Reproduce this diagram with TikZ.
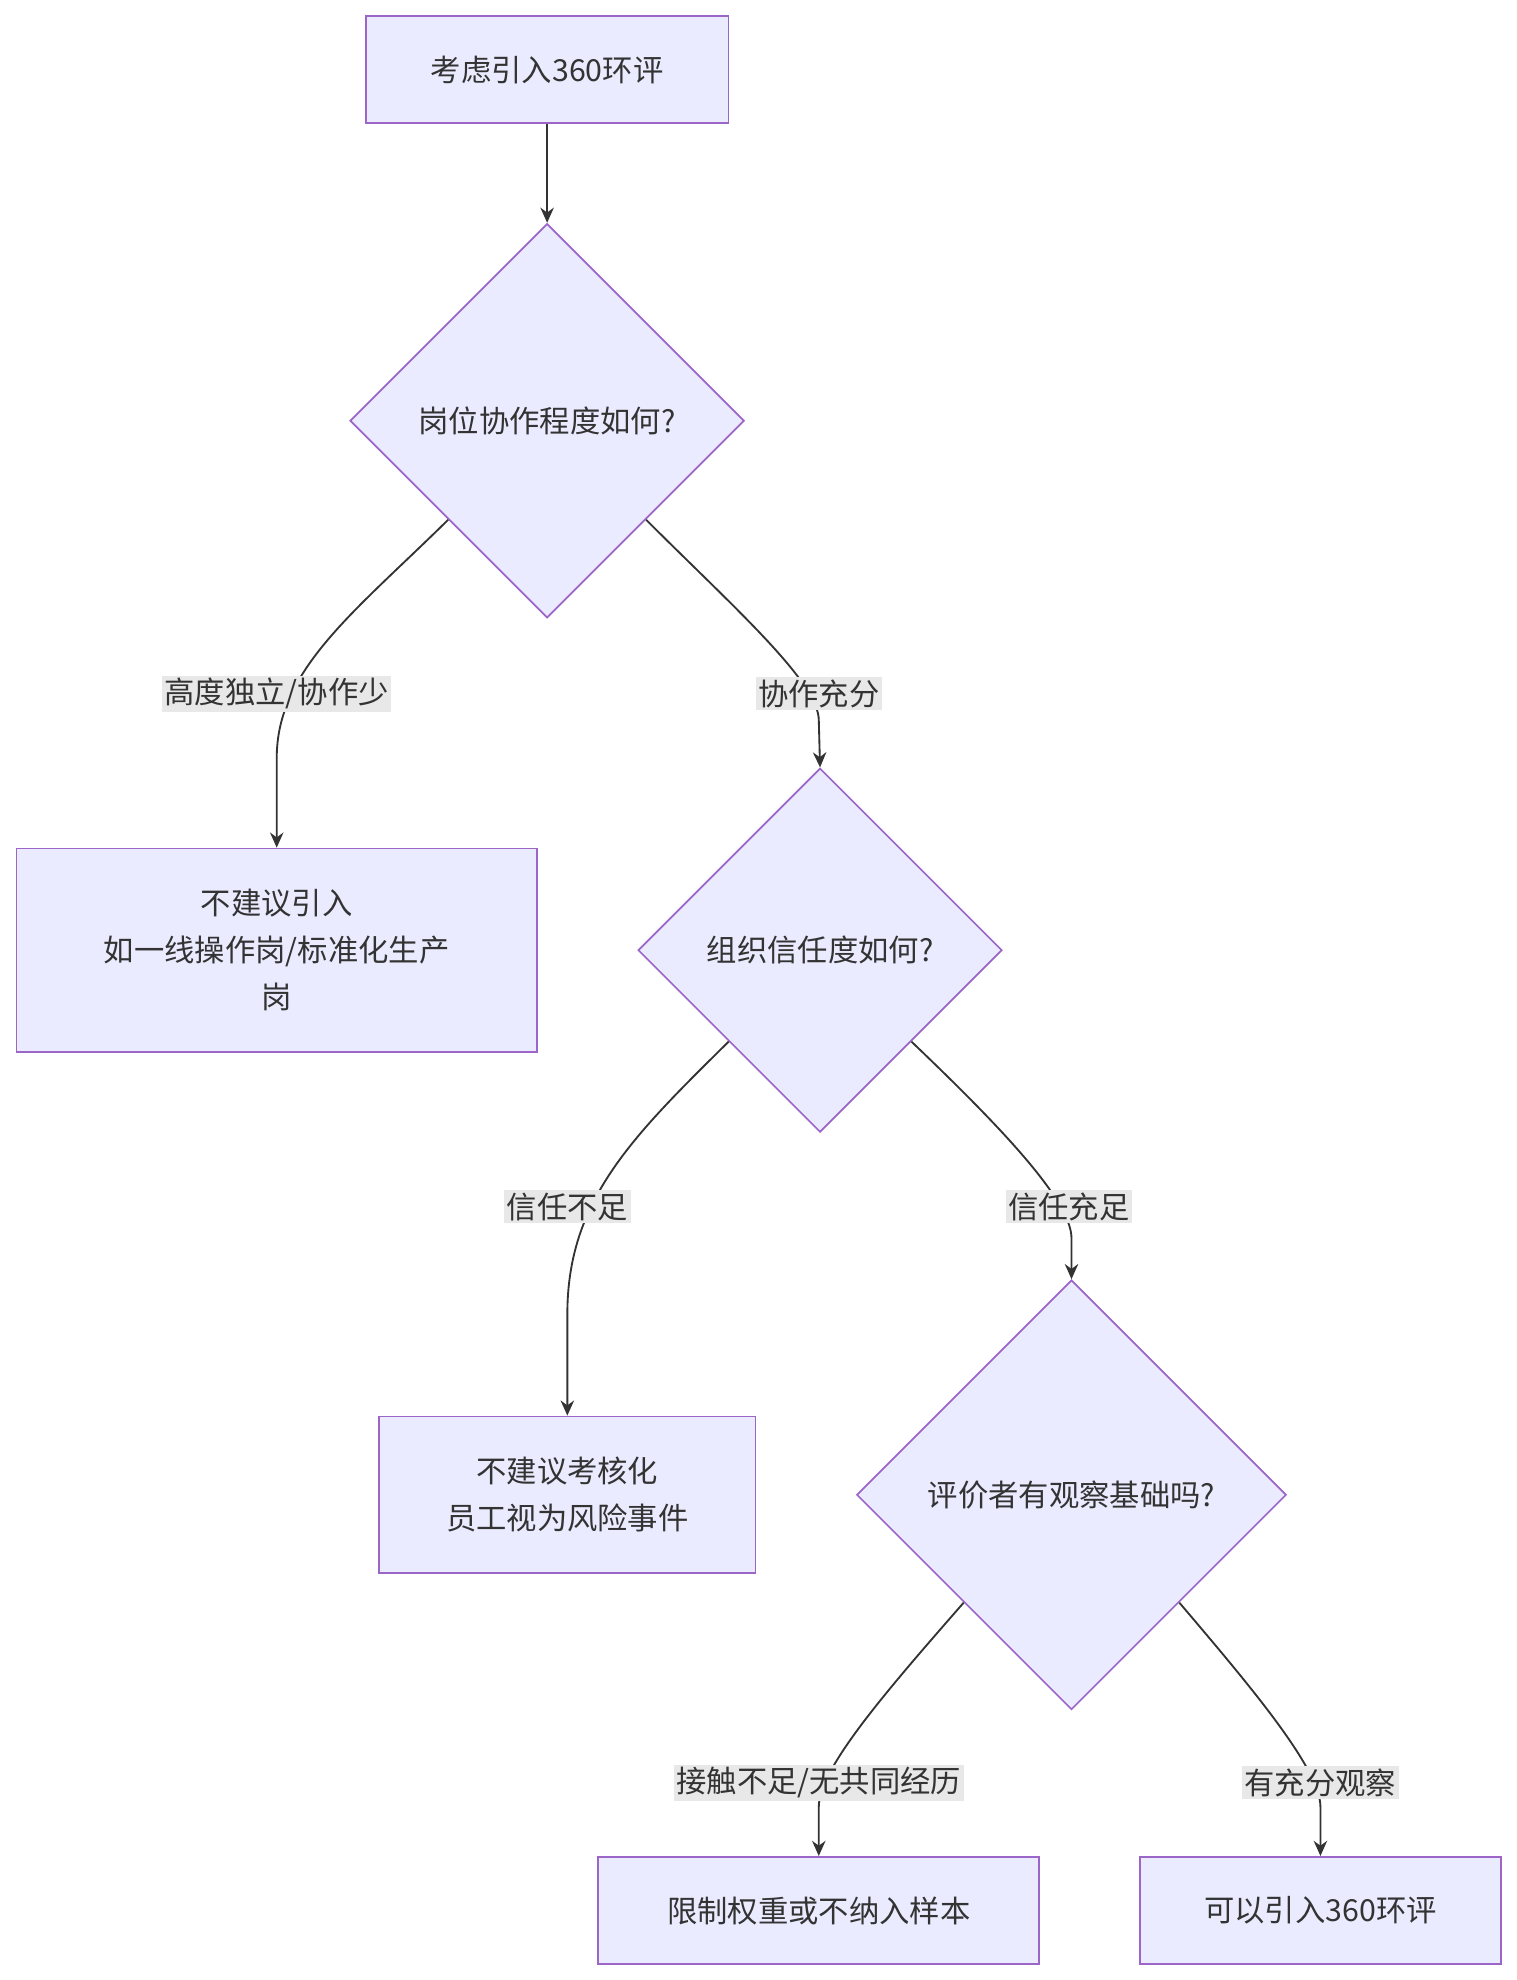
\documentclass[tikz,border=0pt]{standalone}
\usepackage{fontspec}
\setmainfont{Noto Sans CJK SC}
\usetikzlibrary{shapes.geometric,arrows.meta}
\begin{document}
\begin{tikzpicture}[x=0.75pt,y=-0.75pt,
  every node/.style={font=\fontsize{18pt}{28pt}\selectfont, text=black!80},
  box/.style={draw=violet!70!blue!60, fill=blue!8, line width=1pt, inner sep=0pt, align=center},
  dia/.style={draw=violet!70!blue!60, fill=blue!8, line width=1pt, diamond, inner sep=0pt, align=center},
  edge/.style={draw=black!80, line width=1.1pt, -{Stealth[length=9pt,width=8pt]}},
  lbl/.style={fill=black!9, inner sep=1.5pt}]
\useasboundingbox (0,0) rectangle (1200,1567);
\node[box, minimum width=287*0.75pt, minimum height=85*0.75pt] (A) at (433,55) {考虑引入360环评};
\node[dia, minimum size=312*0.75pt] (D1) at (433,333) {岗位协作程度如何?};
\node[box, minimum width=412*0.75pt, minimum height=161*0.75pt] (B) at (219,752) {不建议引入\\如一线操作岗/标准化生产\\岗};
\node[dia, minimum size=288*0.75pt] (D2) at (649,752) {组织信任度如何?};
\node[box, minimum width=298*0.75pt, minimum height=124*0.75pt] (C) at (449,1183) {不建议考核化\\员工视为风险事件};
\node[dia, minimum size=340*0.75pt] (D3) at (848,1183) {评价者有观察基础吗?};
\node[box, minimum width=349*0.75pt, minimum height=85*0.75pt] (E) at (648,1512) {限制权重或不纳入样本};
\node[box, minimum width=286*0.75pt, minimum height=85*0.75pt] (F) at (1045,1512) {可以引入360环评};

\draw[edge] (A) -- (D1);
\draw[edge] (D1.south west) .. controls (280,485) and (219,530) .. (219,600) -- (B.north);
\draw[edge] (D1.south east) .. controls (580,480) and (648,540) .. (648,570) -- (D2.north);
\draw[edge] (D2.south west) .. controls (500,900) and (449,950) .. (449,1040) -- (C.north);
\draw[edge] (D2.south east) .. controls (790,890) and (848,950) .. (848,980) -- (D3.north);
\draw[edge] (D3.south west) .. controls (700,1340) and (648,1400) .. (648,1430) -- (E.north);
\draw[edge] (D3.south east) .. controls (990,1335) and (1045,1400) .. (1045,1430) -- (F.north);

\node[lbl] (l1) at (219,549) {高度独立/协作少};
\node[lbl] (l2) at (648,549) {协作充分};
\node[lbl] (l3) at (449,955) {信任不足};
\node[lbl] (l4) at (846,955) {信任充足};
\node[lbl] (l5) at (648,1411) {接触不足/无共同经历};
\node[lbl] (l6) at (1045,1411) {有充分观察};
\end{tikzpicture}
\end{document}
